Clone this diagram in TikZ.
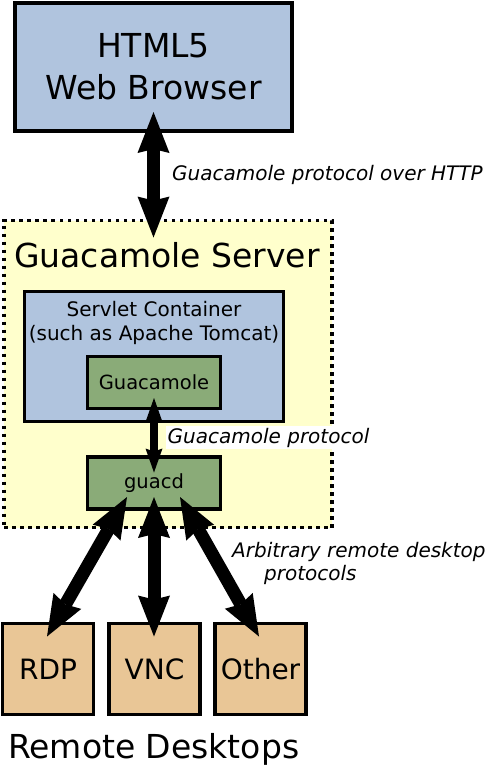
\documentclass[tikz,border=0pt]{standalone}
\usepackage{fontspec}
\setmainfont{DejaVu Sans}
\usetikzlibrary{arrows.meta,positioning}
\definecolor{browserblue}{HTML}{B0C4DE}
\definecolor{guacgreen}{HTML}{8AAB78}
\definecolor{desktoptan}{HTML}{E9C696}
\definecolor{serveryellow}{HTML}{FFFFCC}

\begin{document}
\begin{tikzpicture}[
        x=1pt, y=-1pt,
        box/.style={rectangle,draw,line width=3.5pt,outer sep=0pt,inner sep=0pt,align=center},
        bluebox/.style={box,fill=browserblue},
        greenbox/.style={box,fill=guacgreen,minimum width=133pt,minimum height=52pt,font=\fontsize{19.5}{23}\selectfont},
        desktop/.style={box,fill=desktoptan,minimum width=91pt,minimum height=91pt,font=\fontsize{28}{34}\selectfont},
        biglabel/.style={inner sep=0pt,anchor=base west,font=\fontsize{33}{42}\selectfont},
        protolabel/.style={inner sep=0pt,anchor=base west,align=left,font=\fontsize{20}{23}\selectfont\itshape},
        bigarrow/.style={{Stealth[length=41pt,width=32pt,inset=4pt,line width=0pt]}-{Stealth[length=41pt,width=32pt,inset=4pt,line width=0pt]},line width=13pt},
        smallarrow/.style={{Stealth[length=24pt,width=17pt,inset=3pt,line width=0pt]}-{Stealth[length=24pt,width=17pt,inset=3pt,line width=0pt]},line width=8pt}
    ]
        \useasboundingbox (0,0) rectangle (485,766);

        % server area
        \node[box,fill=serveryellow,dash pattern=on 3.5pt off 4.5pt,minimum width=328pt,minimum height=307pt] (server) at (168,374) {};
        \node[biglabel] (servertitle) at (14,267) {Guacamole Server};
        \node[bluebox,minimum width=259pt,minimum height=130pt] (servlet) at (154,356.5) {};
        \node[inner sep=0pt,align=center,font=\fontsize{20}{24}\selectfont] (servlettext) at (154,322.7) {Servlet Container\\(such as Apache Tomcat)};
        \node[greenbox] (guac) at (154,382.5) {Guacamole};
        \node[greenbox] (guacd) at (154,483) {guacd};

        % browser
        \node[bluebox,minimum width=277pt,minimum height=128pt,font=\fontsize{33}{42}\selectfont] (browser) at (153.5,67) {HTML5\\Web Browser};

        % remote desktops
        \node[desktop] (rdp) at (48,669) {RDP};
        \node[desktop] (vnc) at (154.5,669) {VNC};
        \node[desktop] (other) at (260.5,669) {Other};
        \node[biglabel] (remotetitle) at (8,758) {Remote Desktops};

        \draw[bigarrow] ([yshift=19pt]browser.south) -- ([yshift=-17pt]browser.south |- server.north);
        \draw[smallarrow] ([yshift=10.5pt]guac.south) -- ([yshift=-15.5pt]guacd.north);
        \draw[bigarrow] ([xshift=-27pt,yshift=12pt]guacd.south) -- ([xshift=-1pt,yshift=-13pt]rdp.north);
        \draw[bigarrow] ([yshift=12pt]guacd.south) -- ([xshift=-0.5pt,yshift=-13pt]vnc.north);
        \draw[bigarrow] ([xshift=26pt,yshift=12pt]guacd.south) -- ([xshift=-1.5pt,yshift=-13pt]other.north);

        \node[protolabel] (httplabel) at (172,180) {Guacamole protocol over HTTP};
        \node[protolabel,fill=white,inner sep=1.5pt] (guaclabel) at (166,443) {Guacamole protocol};
        \node[protolabel] (remotelabel) at (232,580) {Arbitrary remote desktop\\\hspace*{32pt}protocols};
    \end{tikzpicture}
\end{document}
